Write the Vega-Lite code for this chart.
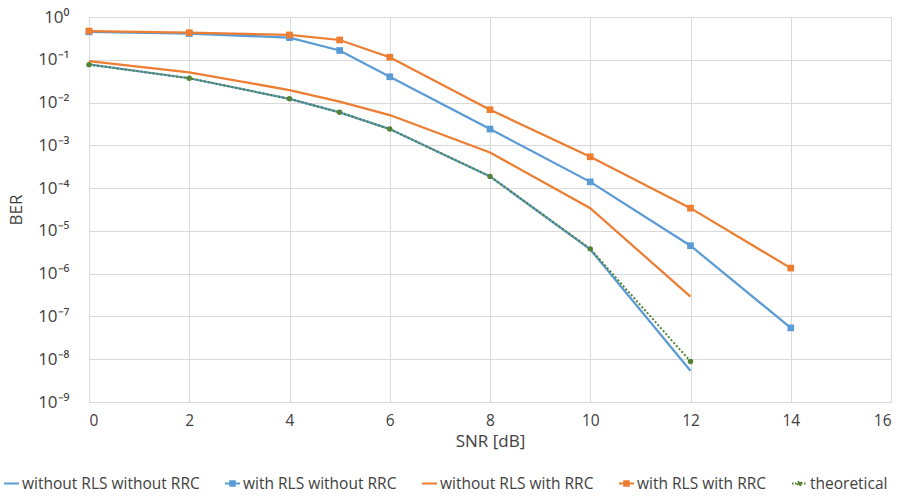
{
  "$schema": "https://vega.github.io/schema/vega-lite/v6.json",
  "width": 802,
  "height": 385,
  "autosize": {"type": "none"},
  "padding": {"left": 89, "top": 17, "right": 13, "bottom": 95},
  "background": "white",
  "config": {
    "font": "Open Sans",
    "view": {"stroke": null},
    "axis": {"gridColor": "#d9d9d9", "gridWidth": 1, "domain": false, "ticks": false, "labelColor": "#404040", "titleColor": "#404040", "titleFontWeight": "normal"}
  },
  "data": {"values": [
    {"series": "without RLS without RRC", "snr": 0, "ber": 0.078},
    {"series": "without RLS without RRC", "snr": 2, "ber": 0.037},
    {"series": "without RLS without RRC", "snr": 4, "ber": 0.0122},
    {"series": "without RLS without RRC", "snr": 5, "ber": 0.0059},
    {"series": "without RLS without RRC", "snr": 6, "ber": 0.0024},
    {"series": "without RLS without RRC", "snr": 8, "ber": 0.000188},
    {"series": "without RLS without RRC", "snr": 10, "ber": 0.0000037},
    {"series": "without RLS without RRC", "snr": 12, "ber": 5.4e-9},
    {"series": "with RLS without RRC", "snr": 0, "ber": 0.45},
    {"series": "with RLS without RRC", "snr": 2, "ber": 0.41},
    {"series": "with RLS without RRC", "snr": 4, "ber": 0.33},
    {"series": "with RLS without RRC", "snr": 5, "ber": 0.165},
    {"series": "with RLS without RRC", "snr": 6, "ber": 0.04},
    {"series": "with RLS without RRC", "snr": 8, "ber": 0.0024},
    {"series": "with RLS without RRC", "snr": 10, "ber": 0.00014},
    {"series": "with RLS without RRC", "snr": 12, "ber": 0.0000045},
    {"series": "with RLS without RRC", "snr": 14, "ber": 5.4e-8},
    {"series": "without RLS with RRC", "snr": 0, "ber": 0.093},
    {"series": "without RLS with RRC", "snr": 2, "ber": 0.051},
    {"series": "without RLS with RRC", "snr": 4, "ber": 0.0196},
    {"series": "without RLS with RRC", "snr": 5, "ber": 0.0105},
    {"series": "without RLS with RRC", "snr": 6, "ber": 0.0051},
    {"series": "without RLS with RRC", "snr": 8, "ber": 0.00068},
    {"series": "without RLS with RRC", "snr": 10, "ber": 0.000034},
    {"series": "without RLS with RRC", "snr": 12, "ber": 2.9e-7},
    {"series": "with RLS with RRC", "snr": 0, "ber": 0.47},
    {"series": "with RLS with RRC", "snr": 2, "ber": 0.43},
    {"series": "with RLS with RRC", "snr": 4, "ber": 0.38},
    {"series": "with RLS with RRC", "snr": 5, "ber": 0.29},
    {"series": "with RLS with RRC", "snr": 6, "ber": 0.115},
    {"series": "with RLS with RRC", "snr": 8, "ber": 0.0068},
    {"series": "with RLS with RRC", "snr": 10, "ber": 0.00054},
    {"series": "with RLS with RRC", "snr": 12, "ber": 0.000034},
    {"series": "with RLS with RRC", "snr": 14, "ber": 0.00000135},
    {"series": "theoretical", "snr": 0, "ber": 0.077},
    {"series": "theoretical", "snr": 2, "ber": 0.037},
    {"series": "theoretical", "snr": 4, "ber": 0.0122},
    {"series": "theoretical", "snr": 5, "ber": 0.0059},
    {"series": "theoretical", "snr": 6, "ber": 0.0024},
    {"series": "theoretical", "snr": 8, "ber": 0.000188},
    {"series": "theoretical", "snr": 10, "ber": 0.0000038},
    {"series": "theoretical", "snr": 12, "ber": 8.9e-9}
  ]},
  "encoding": {
    "x": {"field": "snr", "type": "quantitative", "title": "SNR [dB]",
      "scale": {"domain": [0, 16], "nice": false},
      "axis": {"values": [0, 2, 4, 6, 8, 10, 12, 14, 16], "labelFontSize": 15.5, "titleFontSize": 17, "labelPadding": 11, "titlePadding": 5}},
    "y": {"field": "ber", "type": "quantitative", "title": "BER",
      "scale": {"type": "log", "domain": [1e-9, 1], "nice": false},
      "axis": {"values": [1, 0.1, 0.01, 0.001, 0.0001, 0.00001, 0.000001, 1e-7, 1e-8, 1e-9],
        "labelExpr": "'10' + (datum.value < 0.5 ? '⁻' : '') + substring('⁰¹²³⁴⁵⁶⁷⁸⁹', abs(round(log(datum.value)/LN10)), abs(round(log(datum.value)/LN10)) + 1)",
        "labelFontSize": 17, "titleFontSize": 17, "labelPadding": 20, "titlePadding": 12}},
    "color": {"field": "series", "type": "nominal", "title": null,
      "scale": {"domain": ["without RLS without RRC", "with RLS without RRC", "without RLS with RRC", "with RLS with RRC", "theoretical"],
        "range": ["#5B9BD5", "#5B9BD5", "#ED7D31", "#ED7D31", "#548235"]},
      "legend": {"orient": "none", "legendX": -86, "legendY": 458, "direction": "horizontal", "columns": 5, "labelFontSize": 15.5, "labelColor": "#404040", "labelLimit": 300,
        "symbolSize": 225, "symbolStrokeWidth": 2, "columnPadding": 21, "labelOffset": 2,
        "encode": {"symbols": {"update": {
          "shape": {"signal": "indexof(datum.value, 'with RLS') === 0 ? 'M-1,0H1M-0.3,-0.3H0.3V0.3H-0.3Z' : (datum.value === 'theoretical' ? 'M-1,0H1M-0.25,0A0.25,0.25 0 1,0 0.25,0A0.25,0.25 0 1,0 -0.25,0Z' : 'M-1,0H1')"},
          "fill": {"signal": "scale('color', datum.value)"},
          "stroke": {"signal": "scale('color', datum.value)"},
          "strokeDash": {"signal": "datum.value === 'theoretical' ? [1.5, 1.5] : []"}
        }}}}}
  },
  "layer": [
    {"transform": [{"filter": "datum.series !== 'theoretical'"}],
     "mark": {"type": "line", "strokeWidth": 2.25}},
    {"transform": [{"filter": "datum.series === 'with RLS without RRC' || datum.series === 'with RLS with RRC'"}],
     "mark": {"type": "point", "shape": "square", "filled": true, "size": 45, "opacity": 1}},
    {"transform": [{"filter": "datum.series === 'theoretical'"}],
     "mark": {"type": "line", "strokeWidth": 2, "strokeDash": [2, 2]}},
    {"transform": [{"filter": "datum.series === 'theoretical'"}],
     "mark": {"type": "point", "shape": "circle", "filled": true, "size": 30, "opacity": 1}}
  ]
}
